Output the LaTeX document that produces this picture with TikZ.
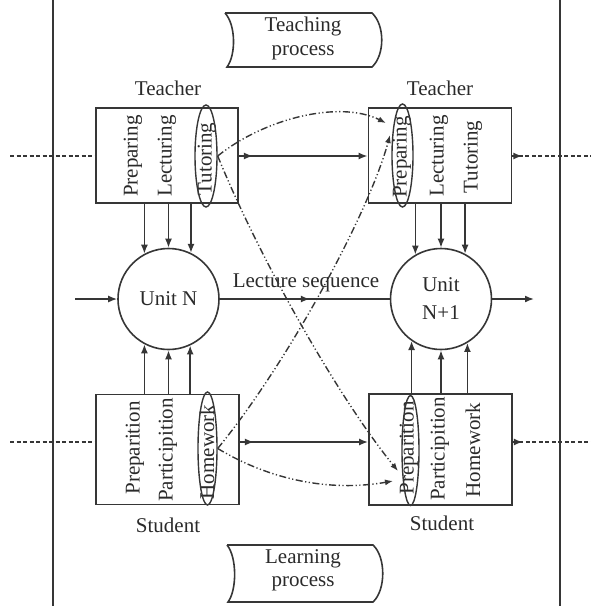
\documentclass[tikz,border=0pt]{standalone}
\usepackage{fontspec}
\setmainfont{Liberation Serif}
\usetikzlibrary{arrows.meta,shapes.geometric,decorations.markings,calc}

\definecolor{ink}{HTML}{363636}
\definecolor{txt}{HTML}{2A2A2A}

\begin{document}
\begin{tikzpicture}[x=1pt,y=-1pt,
  every node/.style={font=\fontsize{21}{25}\selectfont, text=txt},
  unitbox/.style={draw=ink, line width=1.8pt, rectangle, inner sep=0pt},
  unitcircle/.style={draw=ink, line width=1.6pt, circle, minimum size=101pt,
    inner sep=0pt, align=center},
  vlabel/.style={rotate=90, inner sep=0pt},
  ring/.style={draw=ink, line width=1.4pt, ellipse, inner sep=0pt},
  tip/.style={-{Latex[length=9pt,width=7pt]}},
  flow/.style={draw=ink, line width=1.6pt},
  link/.style={draw=ink, line width=1.4pt,
    dash pattern=on 7pt off 2.5pt on 1.2pt off 2.5pt on 1.2pt off 2.5pt,
    -{Latex[length=8pt,width=6pt]}},
  stream/.style={draw=ink, line width=2.6pt, dash pattern=on 4pt off 2.5pt},
  exitmark/.style={postaction={decorate}, decoration={markings,
    mark=at position #1 with {\arrow{Latex[length=9pt,width=7pt]}}}},
  banner/.style={draw=ink, line width=1.6pt}
]
\useasboundingbox (0,0) rectangle (591,606);

% side rails
\coordinate (railLt) at (53,0);  \coordinate (railLb) at (53,606);
\coordinate (railRt) at (560,0); \coordinate (railRb) at (560,606);
\draw[ink, line width=1.6pt] (railLt) -- (railLb);
\draw[ink, line width=1.6pt] (railRt) -- (railRb);

% process banners
\draw[banner] (225,13) -- (372,13) .. controls (385,25) and (385,55) .. (372,67)
  -- (227,67) .. controls (236,55) and (236,25) .. (225,13);
\node[align=center, font=\fontsize{21}{24}\selectfont] (teachproc) at (303,38) {Teaching\\process};
\draw[banner] (227,545) -- (373,545) .. controls (386,557) and (386,590) .. (373,602)
  -- (228,602) .. controls (237,590) and (237,557) .. (227,545);
\node[align=center, font=\fontsize{21}{23}\selectfont] (learnproc) at (303,570) {Learning\\process};

% activity boxes
\node[unitbox, minimum width=142pt, minimum height=95pt]  (TL) at (167,155.5) {};
\node[unitbox, minimum width=143pt, minimum height=95pt]  (TR) at (440,155.5) {};
\node[unitbox, minimum width=143pt, minimum height=110pt] (SL) at (167.5,449.5) {};
\node[unitbox, minimum width=143pt, minimum height=111pt] (SR) at (440.5,449.5) {};

\node (TLname) at (168,88)  {Teacher};
\node (TRname) at (440,88)  {Teacher};
\node (SLname) at (168,525) {Student};
\node (SRname) at (442,523) {Student};

% activities inside the boxes
\node[vlabel] (tl1) at (133,156) {Preparing};
\node[vlabel] (tl2) at (167,156) {Lecturing};
\node[vlabel] (tl3) at (207,159) {Tutoring};
\node[vlabel] (tr1) at (402,157) {Preparing};
\node[vlabel] (tr2) at (439,156) {Lecturing};
\node[vlabel] (tr3) at (473,157) {Tutoring};
\node[vlabel] (sl1) at (135,448) {Preparition};
\node[vlabel] (sl2) at (168,450) {Participition};
\node[vlabel] (sl3) at (207,452) {Homework};
\node[vlabel] (sr1) at (409,448) {Preparition};
\node[vlabel] (sr2) at (440,449) {Participition};
\node[vlabel] (sr3) at (473,450) {Homework};

% highlighted activities
\node[ring, minimum width=22pt, minimum height=102pt] (tutE)  at (206,156) {};
\node[ring, minimum width=21pt, minimum height=103pt] (prepE) at (402.5,155.5) {};
\node[ring, minimum width=19pt, minimum height=113pt] (homE)  at (207.5,448.5) {};
\node[ring, minimum width=17pt, minimum height=110pt] (preE)  at (410.5,450.5) {};

% lecture units
\node[unitcircle] (UN)  at (168.5,299) {Unit N};
\node[unitcircle] (UN1) at (441,299)   {Unit\\[3pt]N+1};

% contributions into the units
\draw[flow, tip] (TL.south -| UN.118) -- (UN.118);
\draw[flow, tip] (TL.south -| UN.90)  -- (UN.90);
\draw[flow, tip] (TL.south -| UN.64)  -- (UN.64);
\draw[flow, tip] (TR.south -| UN1.120) -- (UN1.120);
\draw[flow, tip] (TR.south -| UN1.90)  -- (UN1.90);
\draw[flow, tip] (TR.south -| UN1.62)  -- (UN1.62);
\draw[flow, tip] (SL.north -| UN.242) -- (UN.242);
\draw[flow, tip] (SL.north -| UN.270) -- (UN.270);
\draw[flow, tip] (SL.north -| UN.295) -- (UN.295);
\draw[flow, tip] (SR.north -| UN1.235) -- (UN1.235);
\draw[flow, tip] (SR.north -| UN1.270) -- (UN1.270);
\draw[flow, tip] (SR.north -| UN1.301) -- (UN1.301);

% lecture sequence
\coordinate (seqIn)  at (75,299);
\coordinate (seqOut) at (534,299);
\draw[flow, tip] (seqIn) -- (UN.west);
\draw[flow, exitmark=0.53] (UN.east) -- (UN1.west);
\draw[flow, tip] (UN1.east) -- (seqOut);
\node (seqlabel) at (306,283) {Lecture sequence};

% process streams
\coordinate (topL) at (10,156);  \coordinate (topR) at (591,156);
\coordinate (botL) at (10,442);  \coordinate (botR) at (591,442);
\draw[stream] (topL) -- (topL -| TL.west);
\draw[flow, tip, exitmark=14pt] (TL.east |- topL) -- (TR.west |- topL);
\draw[stream, exitmark=10pt] (TR.east |- topR) -- (topR);
\draw[stream] (botL) -- (botL -| SL.west);
\draw[flow, tip, exitmark=14pt] (SL.east |- botL) -- (SR.west |- botL);
\draw[stream, exitmark=10pt] (SR.east |- botR) -- (botR);

% feedback links between highlighted activities
\coordinate (tipA) at (386,123);
\coordinate (tipB) at (398,471);
\coordinate (tipC) at (390,135);
\coordinate (tipD) at (393,481);
\draw[link] (tutE.east) .. controls (265,118) and (340,100) .. (tipA);
\draw[link] (tutE.east) .. controls (260,260) and (340,400) .. (tipB);
\draw[link] (homE.east) .. controls (290,360) and (370,210) .. (tipC);
\draw[link] (homE.east) .. controls (270,480) and (330,492) .. (tipD);
\end{tikzpicture}
\end{document}
